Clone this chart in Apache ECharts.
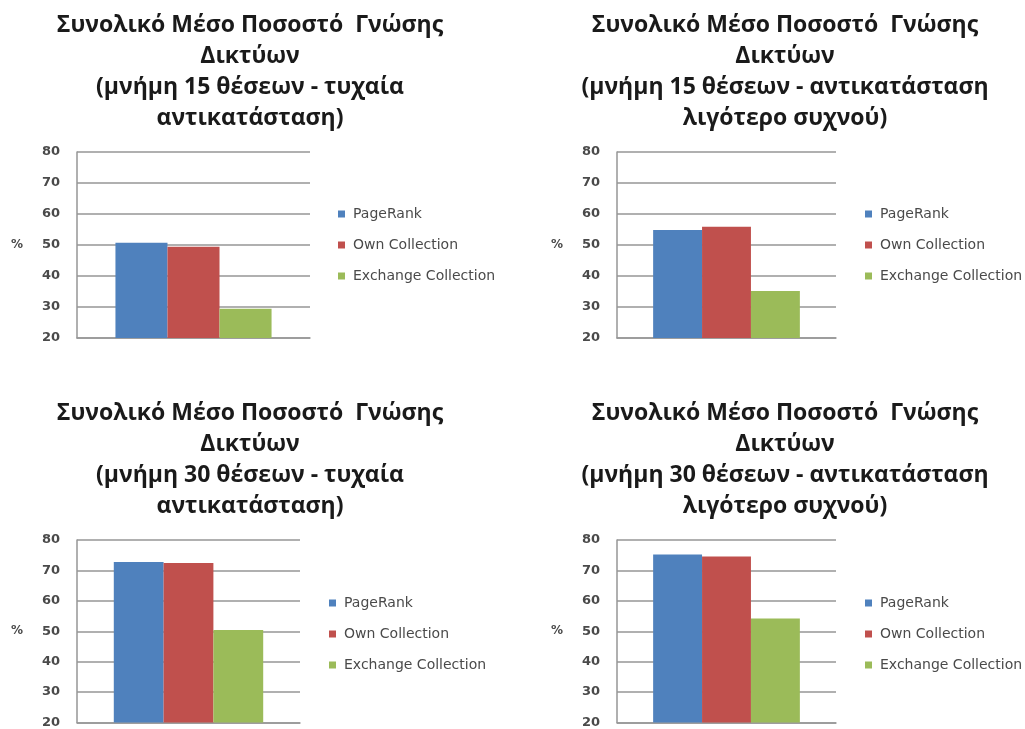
<!DOCTYPE html>
<html>
<head>
<meta charset="utf-8">
<script src="https://cdn.jsdelivr.net/npm/echarts@6/dist/echarts.min.js"></script>
<style>
  html, body { margin: 0; padding: 0; background: #ffffff; }
  #chart { width: 1025px; height: 729px; }
</style>
</head>
<body>
<div id="chart"></div>
<script>
// Average network knowledge (%) per strategy, four memory / replacement setups
const seriesNames = ['PageRank', 'Own Collection', 'Exchange Collection'];
const seriesColors = ['#4f81bd', '#c0504d', '#9bbb59'];

const titles = [
  'Συνολικό Μέσο Ποσοστό  Γνώσης\nΔικτύων\n(μνήμη 15 θέσεων - τυχαία\nαντικατάσταση)',
  'Συνολικό Μέσο Ποσοστό  Γνώσης\nΔικτύων\n(μνήμη 15 θέσεων - αντικατάσταση\nλιγότερο συχνού)',
  'Συνολικό Μέσο Ποσοστό  Γνώσης\nΔικτύων\n(μνήμη 30 θέσεων - τυχαία\nαντικατάσταση)',
  'Συνολικό Μέσο Ποσοστό  Γνώσης\nΔικτύων\n(μνήμη 30 θέσεων - αντικατάσταση\nλιγότερο συχνού)'
];

// values per panel: [PageRank, Own Collection, Exchange Collection]
const mem15Random = [50.7, 49.4, 29.4];
const mem15LeastFrequent = [54.8, 55.9, 35.2];
const mem30Random = [72.8, 72.4, 50.4];
const mem30LeastFrequent = [75.2, 74.6, 54.2];

const yTicks = { min: 20, max: 80, interval: 10 };
const panelData = [mem15Random, mem15LeastFrequent, mem30Random, mem30LeastFrequent];

// panel layout (pixels)
const panels = [
  { gridLeft: 77,  gridWidth: 233, gridTop: 152, titleX: 250, titleTop: 10,  legendLeft: 338, legendTop: 207 },
  { gridLeft: 617, gridWidth: 219, gridTop: 152, titleX: 785, titleTop: 10,  legendLeft: 865, legendTop: 207 },
  { gridLeft: 77,  gridWidth: 223, gridTop: 540, titleX: 250, titleTop: 398, legendLeft: 329, legendTop: 596 },
  { gridLeft: 617, gridWidth: 219, gridTop: 540, titleX: 785, titleTop: 398, legendLeft: 865, legendTop: 596 }
];
const gridHeight = 186;

const axisGray = '#969696';
const textGray = '#4a4a4a';
const font = '"Open Sans", "Noto Sans", sans-serif';
const smallFont = '"DejaVu Sans", sans-serif';

const option = {
  backgroundColor: '#ffffff',
  animation: false,
  title: panels.map((p, i) => ({
    text: titles[i],
    left: p.titleX,
    top: p.titleTop,
    padding: 0,
    textAlign: 'center',
    textStyle: {
      fontFamily: font,
      fontWeight: 'bold',
      fontSize: 23,
      lineHeight: 31,
      color: '#1a1a1a'
    }
  })),
  legend: panels.map((p) => ({
    orient: 'vertical',
    left: p.legendLeft,
    top: p.legendTop,
    padding: 0,
    icon: 'rect',
    itemWidth: 7,
    itemHeight: 7,
    itemGap: 17,
    selectedMode: false,
    data: seriesNames,
    textStyle: {
      fontFamily: smallFont,
      fontSize: 14,
      color: textGray,
      padding: [0, 0, 0, 3]
    }
  })),
  grid: panels.map((p) => ({
    left: p.gridLeft,
    top: p.gridTop,
    width: p.gridWidth,
    height: gridHeight,
    containLabel: false
  })),
  xAxis: panels.map((p, i) => ({
    type: 'category',
    gridIndex: i,
    data: [''],
    axisLine: { show: true, lineStyle: { color: axisGray, width: 1.5 } },
    axisTick: { show: false },
    axisLabel: { show: false }
  })),
  yAxis: panels.map((p, i) => ({
    type: 'value',
    gridIndex: i,
    min: yTicks.min,
    max: yTicks.max,
    interval: yTicks.interval,
    name: '%',
    nameLocation: 'middle',
    nameRotate: 0,
    nameGap: 54,
    nameTextStyle: { fontFamily: smallFont, fontWeight: 'bold', fontSize: 12, color: textGray },
    axisLine: { show: true, lineStyle: { color: axisGray, width: 1.5 } },
    axisTick: { show: false },
    axisLabel: { margin: 17, fontFamily: smallFont, fontWeight: 'bold', fontSize: 13, color: textGray },
    splitLine: { show: true, lineStyle: { color: axisGray, width: 1.5 } }
  })),
  series: []
};

panelData.forEach((values, pi) => {
  seriesNames.forEach((name, si) => {
    option.series.push({
      name: name,
      type: 'bar',
      xAxisIndex: pi,
      yAxisIndex: pi,
      data: [values[si]],
      barGap: '0%',
      barCategoryGap: '33%',
      itemStyle: { color: seriesColors[si] }
    });
  });
});

const chart = echarts.init(document.getElementById('chart'), null, { renderer: 'canvas' });
chart.setOption(option);
</script>
</body>
</html>
